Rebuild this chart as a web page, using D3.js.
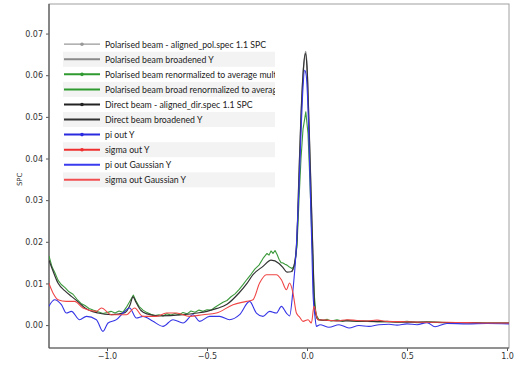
<!DOCTYPE html>
<html>
<head>
<meta charset="utf-8">
<script src="https://cdn.jsdelivr.net/npm/d3@7"></script>
<style>
  body { margin: 0; background: #fff; }
  svg { display: block; }
  .tick text { font-family: "DejaVu Sans", sans-serif; font-size: 8px; fill: #333; }
  .legend text { font-family: "Lato", "Open Sans", sans-serif; font-size: 9.7px; fill: #222; }
</style>
</head>
<body>
<svg id="chart" width="519" height="365"></svg>
<script>
// --- data ---
const xTicks = [-1.0, -0.5, 0.0, 0.5, 1.0];
const yTicks = [0.00, 0.01, 0.02, 0.03, 0.04, 0.05, 0.06, 0.07];

const grayX = [-0.075, -0.062, -0.05, -0.04, -0.03, -0.02, -0.006, 0.0, 0.01, 0.02, 0.03, 0.038, 0.055];
const grayY = [0.0128, 0.0148, 0.021, 0.036, 0.050, 0.060, 0.0657, 0.062, 0.048, 0.032, 0.016, 0.0045, 0.0013];

const greenX = [-1.29, -1.275, -1.26, -1.245, -1.23, -1.21, -1.19, -1.17, -1.15, -1.13, -1.11, -1.09, -1.07, -1.045, -1.02, -1.0,
  -0.98, -0.96, -0.94, -0.92, -0.90, -0.88, -0.868, -0.855, -0.84, -0.82, -0.80, -0.78, -0.76, -0.74, -0.72, -0.70,
  -0.68, -0.66, -0.64, -0.62, -0.60, -0.58, -0.56, -0.54, -0.52, -0.50, -0.48, -0.46, -0.44, -0.42, -0.40, -0.38,
  -0.36, -0.34, -0.32, -0.30, -0.28, -0.26, -0.24, -0.22, -0.21, -0.20, -0.19, -0.18, -0.17, -0.16, -0.15, -0.14,
  -0.13, -0.12, -0.11, -0.10, -0.09, -0.075, -0.062, -0.05, -0.04, -0.03, -0.02, -0.006, 0.005, 0.015, 0.025, 0.035,
  0.045, 0.06, 0.08, 0.10, 0.12, 0.15, 0.18, 0.20, 0.25, 0.30, 0.35, 0.40, 0.45, 0.50, 0.55, 0.60, 0.70, 0.80, 0.90, 1.01];
const greenY = [0.0166, 0.0140, 0.0125, 0.0108, 0.0098, 0.0090, 0.0080, 0.0074, 0.0062, 0.0052, 0.0047, 0.0040, 0.0036, 0.0032, 0.0028, 0.0030,
  0.0033, 0.0029, 0.0034, 0.0031, 0.0045, 0.0062, 0.0072, 0.0058, 0.0045, 0.0036, 0.0030, 0.0026, 0.0023, 0.0025, 0.0022, 0.0027,
  0.0024, 0.0028, 0.0025, 0.0030, 0.0027, 0.0034, 0.0031, 0.0036, 0.0033, 0.0037, 0.0036, 0.0043, 0.0049, 0.0055, 0.0059, 0.0068,
  0.0075, 0.0085, 0.0097, 0.0110, 0.0122, 0.0135, 0.0144, 0.0160, 0.0166, 0.0172, 0.0168, 0.0178, 0.0172, 0.0179, 0.0170, 0.0158,
  0.0150, 0.0149, 0.0146, 0.0144, 0.0140, 0.0136, 0.0142, 0.019, 0.030, 0.040, 0.047, 0.0512, 0.046, 0.034, 0.020, 0.008,
  0.0025, 0.0013, 0.0011, 0.0014, 0.0010, 0.0013, 0.0009, 0.0012, 0.0009, 0.0010, 0.0008, 0.0009, 0.0007, 0.0009, 0.0006, 0.0008, 0.0006, 0.0006, 0.0005, 0.0005];

const blackX = [-1.29, -1.27, -1.245, -1.21, -1.178, -1.14, -1.11, -1.045, -0.978, -0.91, -0.885, -0.87, -0.855, -0.83, -0.80, -0.74,
  -0.62, -0.55, -0.50, -0.45, -0.40, -0.34, -0.30, -0.27, -0.22, -0.18, -0.14, -0.12, -0.10, -0.08, -0.062, -0.05,
  -0.04, -0.03, -0.02, -0.008, 0.0, 0.01, 0.02, 0.03, 0.038, 0.055, 0.10, 0.20, 0.30, 0.40, 0.50, 0.60, 0.70, 0.80, 0.90, 1.01];
const blackY = [0.0156, 0.0130, 0.0101, 0.0082, 0.0069, 0.0054, 0.0041, 0.0029, 0.0025, 0.0030, 0.0048, 0.0068, 0.0055, 0.0035, 0.0027, 0.0022,
  0.0025, 0.0029, 0.0033, 0.0040, 0.0050, 0.0077, 0.0100, 0.0121, 0.0141, 0.0156, 0.0148, 0.0138, 0.0127, 0.0128, 0.0148, 0.021,
  0.036, 0.050, 0.060, 0.0652, 0.062, 0.048, 0.032, 0.016, 0.0045, 0.0013, 0.0011, 0.0010, 0.0009, 0.0008, 0.0007, 0.0007, 0.0006, 0.0006, 0.0005, 0.0005];

const blueX = [-1.291, -1.262, -1.228, -1.203, -1.178, -1.137, -1.103, -1.053, -1.02, -0.995, -0.953, -0.92, -0.887, -0.853, -0.82, -0.77,
  -0.72, -0.67, -0.62, -0.57, -0.537, -0.487, -0.437, -0.387, -0.337, -0.287, -0.253, -0.22, -0.187, -0.153, -0.128, -0.103,
  -0.087, -0.07, -0.053, -0.04, -0.03, -0.02, -0.012, -0.004, 0.005, 0.015, 0.025, 0.03, 0.04, 0.047, 0.065, 0.11,
  0.16, 0.21, 0.26, 0.31, 0.36, 0.41, 0.45, 0.50, 0.55, 0.60, 0.64, 0.70, 0.80, 0.90, 1.01];
const blueY = [0.0045, 0.0061, 0.0049, 0.0029, 0.0033, 0.0013, 0.0021, 0.0013, -0.0015, 0.0005, 0.0013, 0.0029, 0.0041, 0.0017, 0.0021, 0.0009,
  -0.0003, 0.0013, 0.0005, 0.0025, 0.0009, 0.0021, 0.0021, 0.0013, 0.0025, 0.0057, 0.0029, 0.0021, 0.0033, 0.0029, 0.0045, 0.0029,
  0.0022, 0.0085, 0.0189, 0.033, 0.046, 0.057, 0.0612, 0.060, 0.052, 0.035, 0.017, 0.0077, 0.0020, -0.0003, 0.0001, -0.0005,
  0.0001, -0.0007, -0.0001, -0.0003, 0.0001, 0.0002, 0.0000, 0.0003, 0.0001, 0.0006, -0.0004, 0.0004, 0.0003, 0.0004, 0.0003];

const redX = [-1.291, -1.27, -1.245, -1.203, -1.162, -1.12, -1.053, -1.028, -0.978, -0.937, -0.903, -0.862, -0.82, -0.753, -0.703, -0.653,
  -0.587, -0.52, -0.453, -0.37, -0.303, -0.27, -0.237, -0.203, -0.153, -0.128, -0.103, -0.087, -0.07, -0.053, -0.037, -0.02,
  0.005, 0.022, 0.035, 0.055, 0.10, 0.15, 0.20, 0.25, 0.30, 0.35, 0.40, 0.50, 0.60, 0.70, 0.80, 0.90, 1.01];
const redY = [0.0101, 0.0077, 0.0061, 0.0057, 0.0057, 0.0041, 0.0033, 0.0041, 0.0025, 0.0025, 0.0025, 0.0041, 0.0021, 0.0021, 0.0029, 0.0029,
  0.0021, 0.0025, 0.0029, 0.0049, 0.0057, 0.0061, 0.0101, 0.0121, 0.0121, 0.0109, 0.0085, 0.0101, 0.0077, 0.0029, 0.0019, 0.0009,
  0.0013, 0.0005, 0.0045, 0.0013, 0.0012, 0.0010, 0.0013, 0.0011, 0.0010, 0.0012, 0.0009, 0.0008, 0.0007, 0.0007, 0.0006, 0.0005, 0.0005];

const legendLabels = [
  "Polarised beam - aligned_pol.spec 1.1 SPC",
  "Polarised beam broadened Y",
  "Polarised beam renormalized to average mult",
  "Polarised beam broad renormalized to averag",
  "Direct beam - aligned_dir.spec 1.1 SPC",
  "Direct beam broadened Y",
  "pi out Y",
  "sigma out Y",
  "pi out Gaussian Y",
  "sigma out Gaussian Y"
];
const legendColors = ["#999", "#8a8a8a", "#2f9a2f", "#2f9a2f", "#222", "#333", "#2a2ae0", "#ee3030", "#3a3af0", "#f25050"];
const legendMarker = [true, false, true, false, true, false, true, true, false, false];

// --- layout ---
const margin = { top: 4, right: 10, bottom: 17, left: 49 };
const svg = d3.select("#chart");
const width = +svg.attr("width") - margin.left - margin.right;
const height = +svg.attr("height") - margin.top - margin.bottom;

const x = d3.scaleLinear().domain([-1.29, 1.01]).range([0, width]);
const y = d3.scaleLinear().domain([-0.0055, 0.0771]).range([height, 0]);

const g = svg.append("g").attr("transform", `translate(${margin.left},${margin.top})`);

const defs = svg.append("defs");
defs.append("clipPath").attr("id", "plotclip")
  .append("rect").attr("width", width).attr("height", height);
defs.append("clipPath").attr("id", "legclip")
  .append("rect").attr("x", 63).attr("y", 30).attr("width", 212).attr("height", 170);

// axes
g.append("g")
  .attr("class", "axis")
  .attr("transform", `translate(0,${height})`)
  .call(d3.axisBottom(x).tickValues(xTicks).tickSize(3).tickPadding(2)
    .tickFormat(d => d3.format(".1f")(d).replace("-", "\u2212")));
g.append("g")
  .attr("class", "axis")
  .call(d3.axisLeft(y).tickValues(yTicks).tickSize(3).tickPadding(3).tickFormat(d3.format(".2f")));
g.selectAll(".axis .domain").remove();
g.selectAll(".axis line").attr("stroke", "#555");

// frame
g.append("rect").attr("width", width).attr("height", height)
  .attr("fill", "none").attr("stroke", "#a0a0a0").attr("stroke-width", 1);
g.append("line").attr("x1", 0).attr("x2", 0).attr("y1", 0).attr("y2", height)
  .attr("stroke", "#555").attr("stroke-width", 1.2);
g.append("line").attr("x1", 0).attr("x2", width).attr("y1", height).attr("y2", height)
  .attr("stroke", "#555").attr("stroke-width", 1.2);

svg.append("text")
  .attr("transform", `translate(22,${margin.top + y(0.035)}) rotate(-90)`)
  .attr("text-anchor", "middle")
  .style("font-family", "DejaVu Sans, sans-serif").style("font-size", "7px").style("fill", "#333")
  .text("SPC");

// lines
const zipPts = (xs, ys) => xs.map((v, i) => [v, ys[i]]);
const smooth = d3.line().x(d => x(d[0])).y(d => y(d[1])).curve(d3.curveMonotoneX);
const plain = d3.line().x(d => x(d[0])).y(d => y(d[1]));

const series = [
  { pts: zipPts(grayX, grayY), color: "#8a8a8a", w: 1.4, gen: smooth },
  { pts: zipPts(greenX, greenY), color: "#3c9a3c", w: 1.1, gen: plain },
  { pts: zipPts(blackX, blackY), color: "#333", w: 1.2, gen: smooth },
  { pts: zipPts(blueX, blueY), color: "#3535e6", w: 1.1, gen: smooth },
  { pts: zipPts(redX, redY), color: "#f04545", w: 1.1, gen: smooth }
];

g.append("g").attr("clip-path", "url(#plotclip)")
  .selectAll("path")
  .data(series)
  .join("path")
  .attr("d", d => d.gen(d.pts))
  .attr("fill", "none")
  .attr("stroke", d => d.color)
  .attr("stroke-width", d => d.w)
  .attr("stroke-linejoin", "round");

// legend (clipped at its right edge like the original)
const legend = svg.append("g").attr("class", "legend").attr("clip-path", "url(#legclip)");

const rowY = i => 44.2 + i * 15.07;
const rows = legend.selectAll("g.row")
  .data(legendLabels)
  .join("g")
  .attr("class", "row")
  .attr("transform", (d, i) => `translate(0,${rowY(i)})`);

rows.filter((d, i) => i % 2 === 1)
  .append("rect")
  .attr("x", 63).attr("y", -7.5).attr("width", 212).attr("height", 15)
  .attr("fill", "#f3f3f3");

rows.append("line")
  .attr("x1", 64).attr("x2", 100).attr("y1", 0).attr("y2", 0)
  .attr("stroke", (d, i) => legendColors[i])
  .attr("stroke-width", (d, i) => i === 0 ? 1.2 : 2);

rows.each(function (d, i) {
  if (!legendMarker[i]) return;
  d3.select(this).append("circle")
    .attr("cx", 82).attr("cy", 0).attr("r", 1.8)
    .attr("fill", legendColors[i]);
});

// the original legend font is a condensed face, so squeeze horizontally
rows.append("text")
  .attr("transform", "translate(105,0) scale(0.9,1)")
  .attr("dy", "0.35em")
  .text(d => d);
</script>
</body>
</html>
